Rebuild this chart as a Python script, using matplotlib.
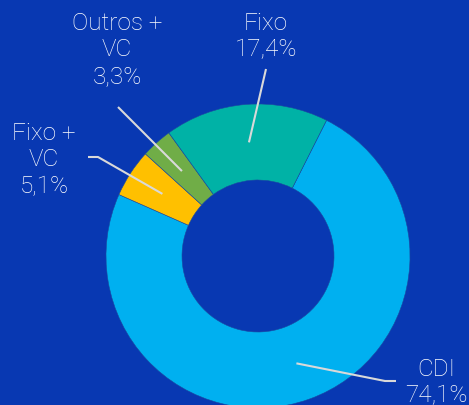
import numpy as np
import matplotlib
matplotlib.use("Agg")
import matplotlib.pyplot as plt

# data (clockwise from the first slice)
categories = ["CDI", "Fixo +\nVC", "Outros +\nVC", "Fixo"]
shares = [74.1, 5.1, 3.3, 17.4]
pct_labels = ["74,1%", "5,1%", "3,3%", "17,4%"]
colors = ["#00B0F0", "#FFC000", "#70AD47", "#00B2A6"]

bg = "#0838B2"
W, H = 469, 406

plt.rcParams['font.family'] = ['Roboto', 'DejaVu Sans']

fig = plt.figure(figsize=(W / 100, H / 100), dpi=100)
fig.patch.set_facecolor(bg)
ax = fig.add_axes([0, 0, 1, 1])
ax.set_facecolor(bg)

# pie centre / radius in pixel units (y measured from bottom)
cx, cy, R = 258, H - 257, 152
wedges, _ = ax.pie(shares, colors=colors, startangle=63.2, counterclock=False,
                   radius=R, center=(cx, cy),
                   wedgeprops=dict(width=R * 0.5, edgecolor="#1b4aa0", linewidth=0.4))
ax.set_xlim(0, W)
ax.set_ylim(0, H)
ax.set_aspect('equal')
ax.axis('off')

# label layout: text centre and optional elbow of the leader line (pixels from top)
text_pos = [(436, 383), (44, 160), (117, 50), (266, 37)]
line_start = [(396, 382), (88, 158), (118, 108), (266, 70)]
elbow = [(385, 382), (98, 158), None, None]

for i, w in enumerate(wedges):
    mid = np.deg2rad((w.theta1 + w.theta2) / 2)
    px = cx + 0.75 * R * np.cos(mid)
    py = cy + 0.75 * R * np.sin(mid)
    xs, ys = [line_start[i][0]], [H - line_start[i][1]]
    if elbow[i] is not None:
        xs.append(elbow[i][0])
        ys.append(H - elbow[i][1])
    xs.append(px)
    ys.append(py)
    ax.plot(xs, ys, color="#d9d9d9", lw=1.5, solid_capstyle='butt')
    tx, ty = text_pos[i]
    ax.text(tx, H - ty, categories[i] + "\n" + pct_labels[i], color="white",
            fontsize=17.5, fontweight='light', ha='center', va='center',
            linespacing=1.18)

fig.savefig("out.png", dpi=100, facecolor=bg)
